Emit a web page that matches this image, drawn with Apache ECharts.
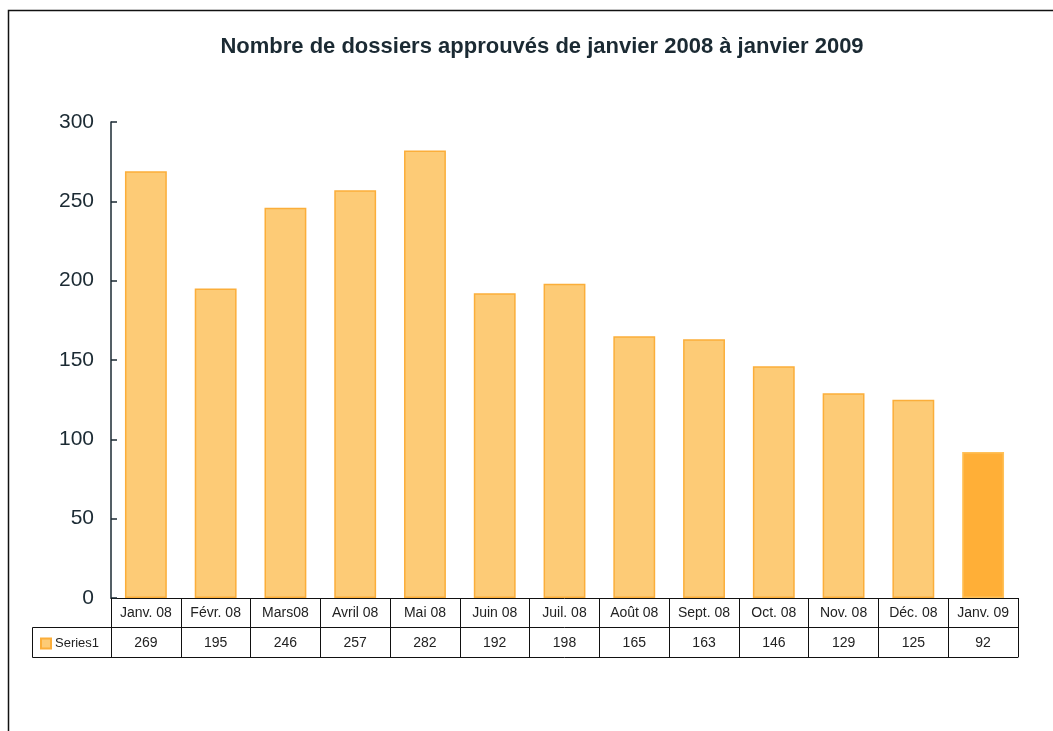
<!DOCTYPE html>
<html>
<head>
<meta charset="utf-8">
<title>Nombre de dossiers approuvés</title>
<script src="https://cdn.jsdelivr.net/npm/echarts@6/dist/echarts.min.js"></script>
<style>
  html, body { margin: 0; padding: 0; background: #fff; }
  #chart { width: 1053px; height: 731px; }
</style>
</head>
<body>
<div id="chart"></div>
<script>
// Monthly approved files, January 2008 to January 2009
const months = ['Janv. 08', 'Févr. 08', 'Mars08', 'Avril 08', 'Mai 08', 'Juin 08', 'Juil. 08',
                'Août 08', 'Sept. 08', 'Oct. 08', 'Nov. 08', 'Déc. 08', 'Janv. 09'];
const approved = [269, 195, 246, 257, 282, 192, 198, 165, 163, 146, 129, 125, 92];
const yTicks = [0, 50, 100, 150, 200, 250, 300];
const seriesName = 'Series1';

const BAR_FILL = '#FDCB76';
const BAR_EDGE = '#FBAE3A';
const LAST_FILL = '#FFAF37';
const INK = '#1b2a33';
const TABLE_INK = '#222';
const FONT = 'Liberation Sans, Arial, sans-serif';

const chart = echarts.init(document.getElementById('chart'), null, { renderer: 'canvas' });

const barData = approved.map((v, i) => i === approved.length - 1
  ? { value: v, itemStyle: { color: LAST_FILL, borderColor: '#FFC15A' } }
  : v);

const tableFont = { fontFamily: FONT, fontSize: 14, color: TABLE_INK };

chart.setOption({
  animation: false,
  title: {
    text: 'Nombre de dossiers approuvés de janvier 2008 à janvier 2009',
    left: 537, top: 31, textAlign: 'center',
    textStyle: { fontFamily: FONT, fontSize: 22, fontWeight: 'bold', color: INK }
  },
  legend: {
    left: 35, top: 632,
    itemWidth: 10, itemHeight: 10, itemGap: 4,
    icon: 'rect',
    textStyle: { fontFamily: FONT, fontSize: 13, color: TABLE_INK, padding: [0, 0, 0, -1] },
    data: [seriesName]
  },
  grid: { left: 111, right: 35, top: 122, bottom: 133, containLabel: false },
  xAxis: [
    {
      type: 'category', data: months, position: 'bottom',
      axisLine: { show: true, lineStyle: { color: '#111', width: 1 } },
      axisTick: { show: true, alignWithLabel: false, length: 59, lineStyle: { color: '#111' } },
      axisLabel: Object.assign({ margin: 8, interval: 0 }, tableFont)
    },
    {
      type: 'category', data: months, position: 'bottom', offset: 29,
      axisLine: { show: true, lineStyle: { color: '#111', width: 1 } },
      axisTick: { show: false },
      axisLabel: Object.assign({ margin: 9, interval: 0, formatter: (v, i) => String(approved[i]) }, tableFont)
    },
    {
      type: 'category', data: months, position: 'bottom', offset: 59,
      axisLine: { show: true, lineStyle: { color: '#111', width: 1 } },
      axisTick: { show: false },
      axisLabel: { show: false }
    }
  ],
  yAxis: {
    type: 'value', min: yTicks[0], max: yTicks[yTicks.length - 1], interval: yTicks[1] - yTicks[0],
    axisLine: { show: true, lineStyle: { color: INK, width: 1.5 } },
    axisTick: { show: true, inside: true, length: 6, lineStyle: { color: INK, width: 1.5 } },
    splitLine: { show: false },
    axisLabel: { margin: 17, fontFamily: FONT, fontSize: 21, color: INK }
  },
  series: [{
    name: seriesName,
    type: 'bar',
    data: barData,
    barWidth: '60%',
    itemStyle: { color: BAR_FILL, borderColor: BAR_EDGE, borderWidth: 1.5 }
  }],
  graphic: [
    // outer chart frame
    { type: 'rect', shape: { x: 8.5, y: 10.5, width: 1200, height: 900 }, style: { fill: 'none', stroke: '#111', lineWidth: 1.5 }, silent: true },
    // legend cell of the data table
    { type: 'polyline', shape: { points: [[111, 627.5], [32.5, 627.5], [32.5, 657.5], [111, 657.5]] }, style: { fill: 'none', stroke: '#111', lineWidth: 1 }, silent: true }
  ]
});
</script>
</body>
</html>
